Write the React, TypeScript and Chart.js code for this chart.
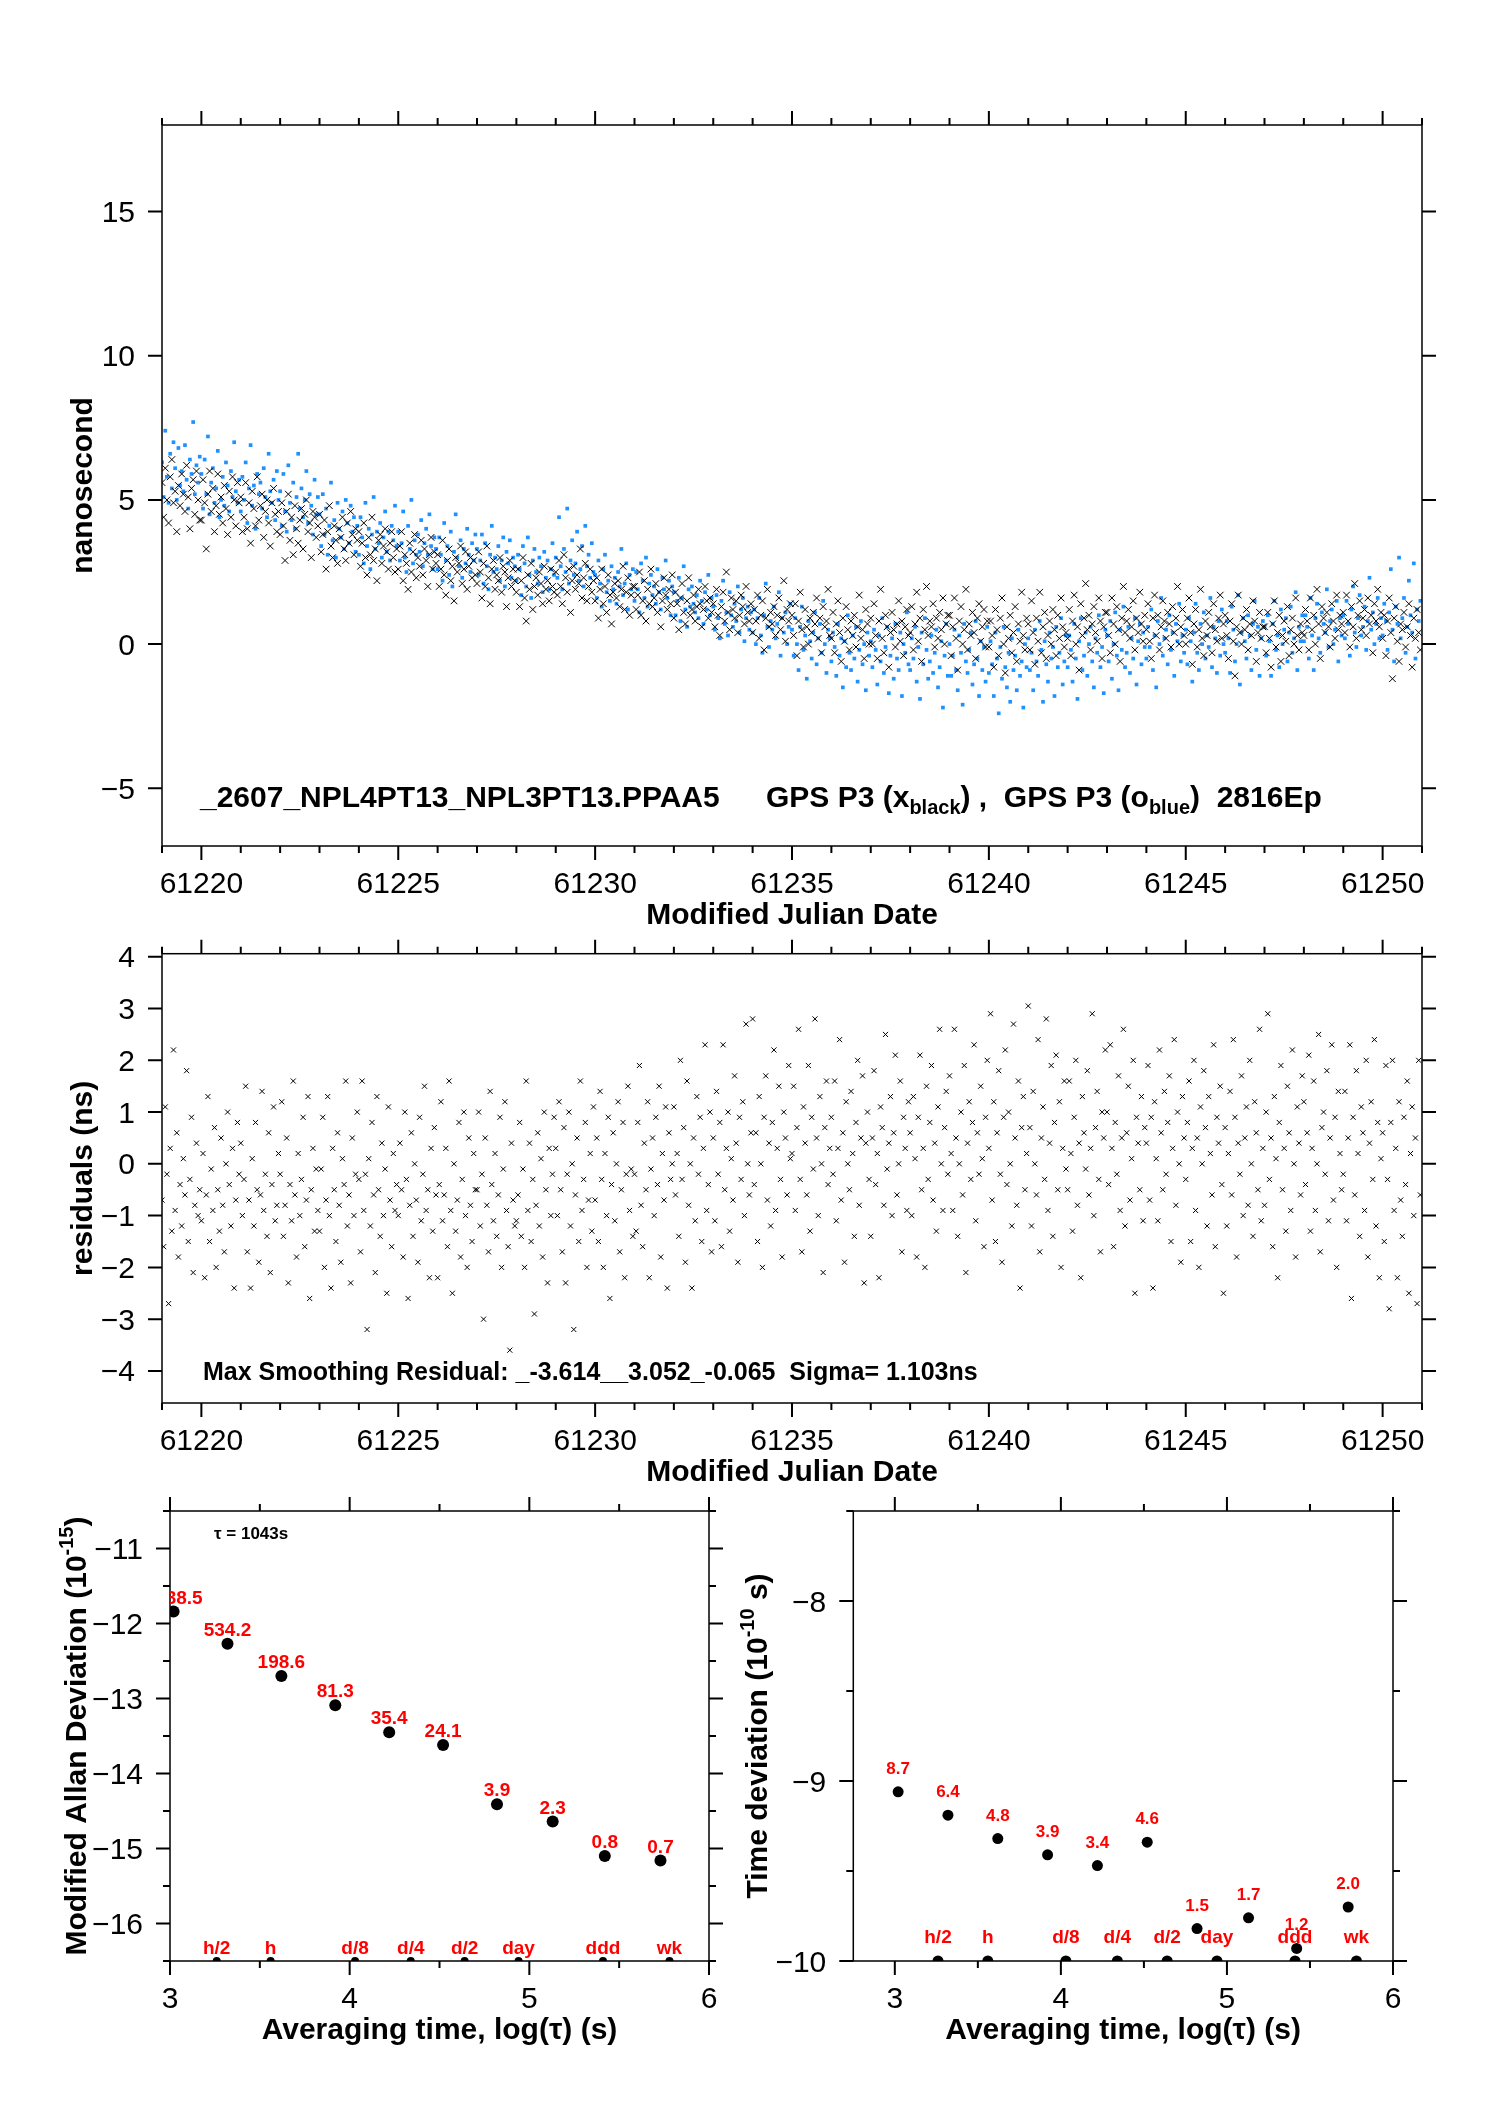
import { useEffect, useRef } from "react";
import { Chart, registerables } from "chart.js";

Chart.register(...registerables);

const FONT = '"Liberation Sans", Arial, Helvetica, sans-serif';
const MINUS = "\u2212";

// 24 epochs per day from MJD 61219
const FIRST_MJD = 61219;
const PER_DAY = 24;

// GPS P3 (x, black), nanoseconds, one row per day
const blackNs = [
  5.6, 4.4, 6.1, 5.0, 4.2, 5.8, 6.4, 4.9, 5.3, 3.9, 5.5, 4.8, 5.9, 5.2, 4.6, 6.2, 5.1, 4.0, 5.4, 5.7, 4.5, 6.0, 5.0, 4.3,
  4.3, 5.7, 4.9, 3.3, 5.2, 6.0, 4.6, 5.4, 3.9, 4.8, 5.9, 4.5, 5.1, 4.2, 5.5, 4.7, 3.8, 5.3, 4.4, 5.8, 5.0, 4.1, 5.6, 4.9,
  5.1, 3.9, 4.4, 5.6, 4.0, 4.9, 3.5, 5.3, 4.7, 4.1, 5.8, 4.3, 4.8, 5.2, 3.7, 4.6, 5.0, 4.2, 3.4, 4.9, 5.4, 4.5, 3.9, 4.6,
  3.8, 4.9, 4.1, 2.9, 4.6, 5.2, 3.6, 4.4, 3.1, 4.8, 4.0, 3.5, 4.3, 4.7, 3.3, 4.5, 5.0, 3.9, 4.2, 3.0, 4.6, 4.4, 3.7, 4.1,
  4.5, 3.2, 3.8, 4.3, 2.6, 3.9, 4.8, 3.4, 3.0, 4.1, 3.6, 2.8, 4.0, 3.7, 4.4, 3.3, 2.9, 4.2, 3.5, 4.6, 3.8, 3.1, 4.0, 3.6,
  3.9, 2.7, 3.5, 4.2, 3.0, 2.4, 3.7, 3.1, 4.4, 2.9, 3.3, 2.2, 3.6, 3.8, 2.8, 3.4, 4.0, 3.2, 2.6, 3.5, 3.9, 3.0, 2.5, 3.3,
  2.6, 3.4, 3.9, 2.2, 3.1, 2.8, 1.9, 3.5, 2.5, 3.2, 3.8, 2.3, 3.0, 2.7, 3.6, 2.4, 3.3, 2.9, 2.0, 3.1, 3.7, 2.6, 3.2, 2.8,
  3.1, 2.0, 2.6, 3.6, 2.4, 1.7, 2.9, 3.3, 2.2, 2.7, 1.5, 3.0, 2.5, 2.8, 3.4, 2.1, 2.6, 3.2, 1.9, 2.7, 3.0, 2.3, 2.9, 2.4,
  2.1, 3.2, 2.5, 1.6, 2.8, 2.0, 3.4, 2.3, 1.4, 2.6, 2.9, 1.9, 2.4, 2.2, 3.0, 1.8, 2.7, 2.5, 1.3, 2.3, 2.9, 2.0, 2.6, 2.2,
  1.8, 2.6, 1.3, 2.2, 3.0, 1.6, 0.8, 2.4, 1.9, 2.8, 1.2, 2.0, 2.3, 1.7, 2.5, 2.1, 1.4, 2.7, 1.9, 2.2, 1.5, 2.6, 2.0, 1.8,
  2.5, 1.7, 2.9, 2.0, 1.4, 3.1, 2.3, 1.8, 2.6, 1.1, 2.2, 2.7, 1.9, 2.4, 2.1, 3.3, 1.6, 2.3, 2.8, 1.5, 2.0, 2.6, 1.8, 2.2,
  1.5, 2.3, 0.9, 1.9, 2.6, 1.4, 2.0, 1.1, 2.4, 1.7, 0.7, 1.8, 2.1, 1.6, 2.2, 1.3, 1.9, 2.7, 1.2, 1.8, 2.3, 1.0, 1.7, 2.0,
  2.0, 1.2, 1.7, 2.5, 1.0, 1.5, 2.2, 0.8, 1.9, 1.4, 2.6, 1.3, 1.6, 2.1, 1.1, 1.8, 0.6, 1.5, 2.3, 1.7, 1.2, 1.9, 1.4, 2.4,
  0.9, 1.8, 1.4, 0.5, 1.6, 2.1, 1.1, 0.7, 1.5, 2.3, 1.0, 1.2, 1.7, 0.8, 1.3, 1.9, 1.4, 0.6, 1.2, 2.0, 1.5, 0.9, 1.6, 1.1,
  1.4, 0.6, 1.9, 1.0, 0.3, 1.3, 1.8, 0.8, 2.5, 1.1, 0.5, 1.6, 1.2, 0.9, 1.5, 0.4, 1.0, 1.7, 1.3, 0.7, 2.0, 1.1, 0.8, 1.4,
  0.4, 1.2, 0.8, 1.7, 0.2, 1.0, 1.5, -0.2, 0.9, 1.9, 0.6, 1.1, 0.7, 1.3, 0.3, 1.0, 1.6, 0.5, 0.9, 2.2, 0.1, 1.2, 0.8, 1.4,
  1.0, 0.3, 1.4, -0.4, 0.8, 1.8, 0.5, -0.1, 1.2, 0.6, 0.0, 0.9, 0.4, 1.1, 0.7, 1.6, 0.2, 0.9, -0.3, 1.3, 0.6, 0.8, 1.9, 0.3,
  0.2, 1.1, -0.3, 0.7, 1.5, 0.4, -0.6, 0.9, 0.1, 1.3, 0.5, -0.2, 0.8, 0.3, 1.0, -0.1, 0.6, 1.7, 0.2, 0.5, -0.5, 1.2, 0.7, 0.0,
  0.9, 0.0, 1.4, 0.3, -0.5, 0.8, 1.9, 0.2, -0.3, 1.0, 0.6, -0.8, 0.4, 1.1, 0.5, -0.1, 0.7, 1.5, 0.1, 0.8, -0.4, 0.6, 1.2, 0.3,
  0.4, 1.3, -0.2, 0.7, 1.8, 0.1, 0.9, -0.6, 1.2, 0.5, 2.0, 0.3, 0.8, 0.6, 1.4, -0.1, 0.9, 0.2, 1.1, 0.5, 1.6, 0.0, 0.7, 1.0,
  1.0, -0.4, 0.6, 1.6, 0.2, -0.9, 0.8, 1.3, 0.0, 0.5, 1.9, -0.2, 0.7, 0.3, 1.1, 0.4, -0.5, 0.9, 1.4, 0.1, 0.6, 1.2, -0.1, 0.8,
  -0.1, 0.8, 0.3, -0.8, 1.2, 0.5, -0.4, 0.9, 1.6, 0.0, -1.0, 0.6, 0.2, 1.0, -0.3, 0.4, 1.3, -0.6, 0.7, 0.1, 1.8, 0.3, -0.2, 0.9,
  0.7, -0.2, 1.5, 0.4, -0.7, 0.9, 0.1, 1.8, -0.3, 0.6, 1.1, -0.5, 0.3, 0.8, 0.0, 1.2, 0.5, -0.4, 1.0, 0.2, 1.6, 0.6, -0.1, 0.4,
  0.2, 1.2, -0.4, 0.8, 1.7, 0.0, 0.6, -0.9, 1.4, 0.3, 0.9, 2.1, 0.5, 1.0, -0.2, 0.7, 1.3, 0.4, 0.1, 1.6, 0.8, -0.5, 0.6, 1.1,
  1.1, 0.3, -0.3, 1.6, 0.7, 0.0, 1.3, 0.5, -0.6, 0.9, 2.0, 0.4, 0.8, 1.2, 0.2, 0.6, 1.5, -0.2, 0.9, 0.4, 1.8, 0.7, 0.1, 1.0,
  0.5, 1.4, 0.1, -0.5, 0.9, 1.7, 0.3, 1.0, -0.2, 0.6, 1.5, 0.8, 0.2, 1.1, 0.7, -0.1, 1.3, 0.4, 0.9, 2.0, 0.0, 0.6, 1.2, 0.3,
  0.0, 0.9, 1.6, 0.4, -0.7, 0.7, 1.2, -0.1, 0.5, 1.9, 0.2, -0.4, 0.8, 0.3, 1.1, 0.6, -0.3, 1.4, 0.5, 0.1, 0.9, 1.7, 0.2, 0.7,
  1.0, 0.3, -0.5, 0.8, 1.4, 0.1, -1.1, 0.6, 1.7, 0.4, 0.0, 0.9, 0.5, 1.2, -0.2, 0.7, 0.3, 1.5, 0.8, -0.6, 0.4, 1.1, 0.2, 0.6,
  0.6, -0.3, 1.1, 0.2, -0.8, 0.7, 1.5, -0.1, 0.4, 1.0, -0.6, 0.3, 0.8, 0.1, 1.3, -0.4, 0.5, 0.9, 0.0, 1.6, 0.3, -0.2, 0.7, 0.4,
  0.3, 1.2, 0.8, -0.2, 1.6, 0.5, 1.0, 0.0, 1.9, 0.7, -0.5, 1.3, 0.9, 0.4, 1.1, 0.6, -0.1, 1.4, 0.8, 0.2, 1.7, 0.5, 1.0, 0.7,
  1.1, 0.4, 1.7, 0.8, -0.1, 1.3, 0.6, 2.1, 0.2, 1.0, 1.5, 0.5, 0.9, 1.2, 0.3, 1.6, 0.7, 1.0, -0.3, 1.4, 0.8, 1.9, 0.6, 1.1,
  0.2, 1.0, -0.4, 0.8, 1.6, 0.4, -1.2, 0.9, 1.3, 0.1, -0.6, 0.7, 0.5, 1.1, -0.1, 0.6, 1.4, 0.3, -0.8, 0.9, 0.2, 1.2, 0.4, -0.2,
];

// GPS P3 (o, blue), nanoseconds, one row per day
const blueNs = [
  6.3, 5.1, 7.4, 5.8, 4.9, 6.6, 5.4, 7.0, 6.1, 5.0, 6.8, 5.5, 6.0, 5.3, 6.9, 5.7, 4.7, 6.4, 5.9, 7.7, 5.2, 6.2, 5.6, 6.5,
  5.9, 4.7, 6.4, 5.2, 7.2, 4.5, 5.6, 6.1, 4.9, 5.4, 6.7, 4.4, 5.0, 5.8, 4.8, 6.3, 5.5, 4.6, 6.0, 5.1, 7.0, 5.3, 4.9, 5.7,
  4.6, 5.8, 5.0, 6.3, 4.2, 5.4, 6.9, 4.8, 5.5, 4.0, 5.9, 5.2, 5.6, 4.7, 6.1, 5.1, 4.4, 6.6, 5.3, 4.9, 5.7, 4.3, 6.0, 5.0,
  5.3, 4.1, 5.9, 4.6, 3.9, 6.2, 4.9, 4.3, 5.6, 4.0, 5.1, 6.6, 4.7, 5.4, 4.4, 5.0, 6.0, 4.2, 5.2, 4.8, 3.8, 5.7, 4.5, 5.1,
  4.5, 3.4, 5.2, 3.8, 4.7, 3.1, 4.1, 5.6, 3.6, 4.3, 3.0, 4.9, 4.0, 3.7, 4.6, 3.3, 5.0, 4.2, 3.5, 4.8, 3.9, 4.4, 3.2, 4.1,
  3.1, 4.4, 3.7, 2.8, 4.9, 3.4, 4.0, 2.6, 3.8, 5.1, 3.3, 3.9, 3.5, 4.2, 3.0, 3.7, 4.6, 3.2, 3.9, 2.9, 4.1, 3.6, 4.8, 3.4,
  3.9, 2.9, 3.5, 4.6, 3.0, 2.5, 4.1, 3.3, 5.0, 2.8, 3.6, 3.1, 3.8, 3.2, 4.3, 2.7, 3.5, 4.0, 3.1, 4.5, 3.4, 2.6, 3.7, 3.3,
  2.6, 3.7, 3.1, 2.2, 4.2, 2.9, 3.4, 2.4, 3.9, 2.0, 3.2, 4.5, 3.0, 2.7, 3.6, 2.3, 3.3, 2.8, 4.0, 3.1, 2.5, 3.5, 2.9, 3.8,
  3.3, 2.4, 2.9, 3.8, 2.1, 3.5, 2.7, 1.9, 3.1, 4.1, 2.5, 3.0, 2.6, 3.4, 2.2, 2.9, 3.7, 2.0, 3.2, 2.8, 3.6, 2.3, 3.0, 2.7,
  2.2, 3.1, 2.6, 1.7, 3.4, 2.8, 2.0, 3.7, 2.4, 1.6, 2.9, 3.3, 2.5, 2.1, 3.0, 2.7, 1.8, 3.2, 2.3, 2.9, 1.9, 2.6, 3.5, 2.4,
  3.0, 2.3, 4.4, 2.7, 1.9, 3.3, 2.5, 4.7, 2.1, 2.9, 3.6, 2.4, 2.8, 3.9, 2.2, 2.6, 3.4, 2.0, 4.1, 2.7, 3.1, 2.3, 3.5, 2.5,
  2.4, 1.6, 2.9, 2.1, 1.3, 2.6, 3.1, 1.8, 2.2, 1.5, 2.7, 1.9, 2.3, 1.4, 2.5, 2.0, 3.3, 1.7, 2.1, 2.8, 1.2, 2.4, 1.9, 2.6,
  1.5, 2.5, 1.9, 1.1, 2.8, 2.2, 1.6, 3.0, 1.3, 2.1, 2.4, 1.7, 2.0, 1.4, 2.6, 1.8, 1.2, 2.3, 1.9, 2.9, 1.6, 2.2, 1.0, 2.0,
  1.8, 1.0, 1.5, 2.3, 0.8, 1.6, 2.7, 1.2, 0.6, 1.9, 1.3, 2.0, 1.4, 1.1, 1.7, 0.9, 2.2, 1.5, 0.7, 1.8, 1.2, 2.4, 1.0, 1.6,
  1.3, 0.5, 1.7, 0.9, 0.2, 1.5, 2.2, 0.7, 1.1, 0.3, 1.8, 1.0, 0.6, 1.4, 0.8, 2.0, 0.4, 1.2, 1.6, 0.1, 0.9, 1.3, 0.5, 1.1,
  0.4, 1.2, 0.0, 0.9, 1.6, 0.3, -0.3, 1.0, 2.1, 0.6, -0.1, 0.8, 0.5, 1.3, 0.2, 0.7, 1.8, -0.4, 0.9, 0.4, 1.1, 0.0, 0.6, 1.4,
  0.5, -0.4, 0.9, 0.0, -0.9, 0.6, 1.3, -0.2, 0.3, -1.2, 0.8, 0.1, -0.5, 0.4, 1.1, -0.7, 0.2, 0.7, -0.3, 1.5, 0.0, -1.0, 0.5, 0.2,
  -0.6, 0.4, -0.1, -1.1, 0.7, -0.4, 0.2, -1.5, 0.1, -0.8, 1.0, -0.3, -0.9, 0.3, -0.5, 0.6, -1.3, -0.2, 0.8, -0.7, 0.0, -1.6, 0.4, -0.4,
  0.1, -0.8, 0.5, -0.2, -1.4, 0.3, -0.6, 0.9, -1.0, -0.1, 0.6, -1.7, -0.4, 0.2, -1.2, 0.7, -0.5, -0.9, 0.4, -1.8, 0.0, -0.3, 1.1, -0.7,
  -0.9, 0.2, -0.5, 0.6, -1.3, -0.1, -1.9, 0.4, -0.7, 0.9, -0.2, -1.2, -0.6, 0.3, -1.0, -0.3, 0.5, -1.5, -0.8, 0.1, -2.2, -0.4, 0.7, -1.1,
  0.0, -1.1, -0.4, 0.5, -0.9, -1.6, 0.3, -0.3, -2.1, 0.7, -0.6, -1.0, -0.2, 0.4, -1.4, -0.7, 0.8, -0.5, -1.8, 0.1, -0.9, -0.1, -1.3, 0.6,
  -1.0, 0.1, -0.7, -1.8, 0.4, -0.5, -2.4, -0.1, -1.2, 0.6, -0.8, -1.5, -0.3, -2.0, 0.2, -0.9, -0.4, -1.6, 0.5, -1.1, -0.6, -2.2, 0.0, -0.8,
  0.2, -0.9, -0.3, -1.6, 0.5, -0.6, -1.1, 0.8, -0.2, -2.0, 0.1, -0.7, -1.3, 0.4, -0.5, -0.1, -1.8, 0.6, -0.8, -0.3, 0.9, -1.4, -0.6, 0.3,
  -0.8, 0.3, -0.2, -1.3, 0.7, -0.5, -1.9, 0.1, 0.9, -0.9, -0.4, 0.4, -1.1, 0.0, 0.6, -0.6, -1.5, 0.2, -0.3, 1.0, -0.8, -0.1, -1.7, 0.5,
  0.3, -0.6, 0.8, -1.2, 0.0, 1.1, -0.4, -1.6, 0.5, -0.2, 1.3, -0.8, -0.3, 0.6, -1.0, 0.2, -0.5, 0.9, -1.4, 0.1, 0.7, -0.7, 0.4, -0.1,
  -0.5, 0.6, -0.1, 1.2, -0.9, 0.3, -1.5, 0.8, 0.0, 1.6, -0.4, 0.2, 0.5, -0.7, 1.0, -0.2, 0.4, -1.1, 0.7, 0.1, 1.4, -0.6, 0.3, -0.3,
  0.5, -0.7, 0.9, 0.1, -1.3, 0.4, 1.4, -0.3, -0.9, 0.7, 0.0, 1.1, -0.5, 0.3, -0.1, 1.6, -0.8, 0.6, 0.2, -1.0, 0.8, -0.4, 1.2, 0.0,
  -0.3, 0.8, 0.2, -1.0, 1.3, 0.5, -0.6, 0.0, 1.7, -1.4, 0.4, 0.9, 0.1, -0.5, 1.0, 0.3, -0.9, 0.7, 1.5, -0.2, 0.6, -1.1, 0.2, 0.8,
  0.6, -0.4, 1.0, 0.1, -1.1, 0.7, 1.5, -0.2, 0.3, -0.8, 1.2, 0.0, 0.5, 0.9, -0.6, 0.4, 1.3, -0.3, 0.2, 1.8, -0.9, 0.6, 0.1, 1.0,
  0.1, 1.0, 0.6, -0.5, 1.6, 0.3, -0.9, 0.9, 1.4, 0.2, -0.3, 1.1, 0.7, 0.4, 1.9, -0.1, 0.8, 1.2, 0.0, 0.5, 1.5, -0.6, 0.9, 0.3,
  1.0, 0.2, 1.5, 0.7, -0.4, 1.2, 2.0, 0.4, -0.1, 0.9, 1.7, 0.3, 0.6, 1.3, -0.2, 0.8, 2.3, 0.5, 1.1, 0.0, 0.7, 1.6, 0.2, 0.9,
  0.3, 1.4, 0.8, -0.2, 1.1, 2.6, 0.5, -0.6, 1.3, 0.7, 3.0, 0.2, 0.9, 1.6, -0.3, 0.6, 2.2, 1.0, 0.4, 2.8, -0.5, 1.2, 0.8, 1.5,
];

// smoothing residuals, nanoseconds, one row per day
const residNs = [
  -0.7, -1.6, 1.1, -0.2, -2.7, 0.3, -1.3, 2.2, -0.9, 0.6, -1.8, -0.4, -1.2, 0.1, -0.6, 1.8, -1.5, -0.3, 0.9, -2.1, -0.8, 0.4, -1.0, -0.5,
  -1.1, 0.2, -2.2, -0.6, 1.3, -1.5, -0.1, -0.9, 0.7, -2.0, -0.5, -1.3, 0.5, -0.8, -1.7, 0.0, 1.0, -0.4, -1.2, 0.3, -2.4, -0.7, 0.8, -0.2,
  0.4, -1.0, -0.3, 1.5, -1.7, -0.7, -2.4, 0.1, -1.2, 0.8, -0.5, -1.9, -0.6, 1.4, -0.9, -0.2, -1.4, 0.6, -2.1, -0.4, 1.1, -1.1, -0.8, 0.2,
  -0.2, 1.2, -1.4, -0.8, 0.5, -2.3, -0.4, -1.1, 1.6, -0.6, -1.8, 0.2, -1.0, -0.3, 0.9, -1.6, -0.7, 1.3, -2.6, -0.5, 0.3, -1.3, -0.1, -0.9,
  -1.3, -0.1, 0.9, -2.0, -0.7, 1.3, -1.0, -2.4, 0.3, -0.5, -1.5, 0.6, -0.8, -1.9, 0.1, -0.4, 1.6, -1.2, -0.6, -2.3, 0.5, -1.0, -0.2, 1.0,
  -0.3, -1.7, 1.6, -0.9, -0.2, -3.2, 0.1, -1.2, 0.8, -0.6, -2.1, 1.3, -0.5, -1.4, 0.4, -1.0, -0.1, -2.5, 1.1, -0.7, -1.6, 0.2, -0.9, -0.4,
  -1.0, 0.4, -0.5, -1.8, 1.0, -0.3, -2.6, -0.8, 0.6, -1.4, 0.0, -0.7, -1.9, 0.9, -1.1, -0.2, 1.5, -0.9, -0.5, -2.2, 0.3, -1.3, 0.7, -0.6,
  -2.2, -0.4, 1.2, -1.1, -0.6, 0.3, -1.6, 1.6, -0.9, -2.5, 0.0, -1.3, -0.7, 0.8, -1.8, -0.3, 1.0, -1.0, -2.0, 0.5, -0.8, -1.5, 0.2, -0.5,
  -0.5, 1.0, -1.2, -0.2, -3.0, 0.5, -0.8, -1.7, 1.4, -0.4, -1.1, 0.2, -1.4, -0.6, 0.9, -2.0, -0.1, 1.2, -0.9, -1.6, -3.6, 0.4, -0.7, -1.2,
  -1.1, -0.6, 0.8, -1.4, -0.1, -2.0, 1.6, -0.9, 0.4, -1.5, -0.3, -2.9, -0.8, 0.6, -1.2, 0.1, -1.8, 1.0, -0.5, -2.3, 0.3, -1.0, -0.2, 0.9,
  0.3, -1.0, 1.2, -0.5, -1.7, 0.7, -2.3, -0.2, 1.0, -1.2, 0.0, -3.2, -0.6, 0.5, -1.5, 1.6, -0.9, -0.3, 0.8, -2.0, -0.7, 0.2, -1.3, 1.1,
  -0.7, 0.5, -1.5, 1.4, -0.3, -2.0, 0.2, -1.0, 0.9, -2.6, -0.4, 0.6, -1.1, 0.0, 1.2, -1.7, -0.5, 0.8, -2.2, -0.2, 1.5, -0.9, -0.1, -1.4,
  -0.2, -1.3, 0.8, 1.9, -0.8, -1.6, 0.4, -0.5, 1.2, -2.2, -0.1, 0.5, -1.0, 0.9, -0.4, 1.5, -1.8, 0.2, -0.7, 1.1, -2.4, 0.6, -0.3, 0.0,
  1.1, -0.6, 0.2, -1.4, 2.0, -0.3, 0.7, -1.9, 1.6, -0.8, 0.0, -2.4, 0.5, -1.1, 1.3, -0.2, 0.9, -1.5, 0.3, 2.3, -0.9, -0.4, 1.0, -1.7,
  0.5, -1.1, 1.4, -0.2, 0.8, -1.6, 2.3, -0.5, 0.3, 1.0, -1.3, 0.1, -0.7, 1.7, 0.4, -1.9, 0.9, -0.3, 1.2, -1.0, 2.7, 0.0, -0.6, 0.6,
  2.8, -0.4, 0.6, -1.5, 1.3, 0.0, -2.0, 0.9, 1.7, -0.7, 0.4, -1.2, 0.8, 2.2, -0.9, 0.3, 1.5, -0.3, -1.8, 1.0, 0.5, -0.6, 1.9, 0.1,
  0.2, 1.5, -0.9, 0.7, 2.6, -0.3, -1.7, 1.1, 0.4, -0.6, 1.9, -1.3, 0.9, -0.1, 2.8, 0.5, -1.0, 1.3, 0.0, -2.1, 0.7, 1.6, -0.4, 0.3,
  0.9, -0.2, 1.6, -1.1, 0.3, 2.4, -0.7, 0.6, -1.9, 1.2, 0.0, -0.5, 1.4, 0.2, -1.4, 0.8, 2.0, -0.8, 0.5, 1.7, -2.3, 0.4, 1.0, -0.3,
  -1.4, 0.5, 1.8, -0.4, 0.2, -2.2, 1.1, 0.7, -0.8, 2.5, -0.1, 0.4, 1.3, -1.0, 0.6, 2.1, -0.6, 0.0, 1.6, -1.7, 0.9, 0.3, -0.9, 1.2,
  0.6, -1.0, 1.3, 0.1, -1.8, 0.9, 2.1, -0.5, 0.3, -2.0, 1.5, -0.3, 0.8, 1.9, -0.7, 0.4, -1.3, 1.1, 2.6, 0.0, -0.9, 0.7, 1.4, -0.2,
  1.7, 0.2, -0.9, 2.6, 0.5, -1.4, 0.0, 1.0, -0.6, 1.9, -2.1, 0.4, 1.2, -0.3, 0.8, 2.3, -1.1, 0.6, -0.2, 1.5, 0.1, -1.6, 0.9, 2.0,
  0.3, 2.9, -0.7, 1.2, -1.5, 0.6, 1.8, -0.2, -1.9, 0.9, 2.2, -0.4, 1.0, 0.0, -1.2, 2.7, 0.5, -0.8, 1.6, -2.4, 0.7, 1.3, -0.5, 0.2,
  3.05, 0.7, -1.2, 1.4, 0.0, -0.6, 2.4, -1.7, 0.5, 1.1, -0.3, 2.8, -0.9, 0.4, 1.9, -1.4, 0.8, 2.1, -0.5, 1.2, -2.0, 0.3, 1.6, -0.1,
  -0.5, 1.6, 0.2, -1.3, 0.9, 2.0, -0.8, 0.4, -2.2, 1.3, 0.6, -0.1, 1.8, -0.6, 0.3, 2.9, -1.0, 0.7, 1.4, -0.3, -1.7, 1.0, 0.5, 2.2,
  1.0, -0.4, 2.3, 0.3, -1.6, 0.8, -0.2, 1.7, -0.9, 0.5, 2.6, -1.2, 0.6, 1.5, -0.7, 0.1, 2.0, -2.5, 0.9, 0.4, -0.5, 1.3, -1.1, 0.7,
  0.4, 1.9, -0.7, 0.9, -2.4, 1.2, 0.1, -1.1, 2.2, 0.6, -0.5, 1.4, -0.2, 0.8, 1.7, -1.5, 0.3, 2.4, -0.8, 1.0, 0.0, -1.9, 1.3, 0.5,
  -0.3, 0.8, 1.6, -1.5, 0.3, 2.0, -0.9, 0.5, -2.0, 1.1, 0.0, 1.8, 0.7, -1.2, 1.3, 0.2, -0.6, 2.3, -1.6, 0.9, 0.4, 1.5, -0.4, -2.5,
  0.7, -1.2, 0.2, 1.4, -0.6, 2.4, 0.9, -1.8, 0.4, -0.2, 1.7, -1.0, 0.5, 1.1, -0.8, 2.0, 0.0, -1.4, 1.2, 0.6, -0.5, 2.6, -1.1, 0.3,
  -0.8, 1.0, 2.9, -0.3, 0.5, -1.6, 1.3, 0.1, -2.2, 0.8, 1.9, -0.5, 0.3, -1.3, 1.5, 0.6, -0.9, 2.2, 0.0, -1.8, 1.1, 0.4, -0.6, 1.7,
  1.2, -0.4, 0.6, 2.1, -1.3, 0.3, 1.6, -0.9, 0.0, 2.5, -1.7, 0.7, 1.0, -0.2, 1.8, -1.1, 0.5, 2.3, -0.7, 0.9, -2.0, 1.4, 0.2, -0.5,
  -0.2, 1.4, -1.1, 0.5, 2.3, -2.6, 0.9, -0.6, 1.8, 0.2, -1.4, 1.1, 0.6, -0.9, 2.0, -1.8, 0.4, 1.2, -0.3, 2.4, -1.2, 0.8, -2.2, 0.1,
  0.6, -1.5, 1.9, -0.3, -2.8, 0.8, 2.0, -0.9, 0.3, -2.2, 1.2, -0.7, -1.4, 0.9, -0.4, 1.6, -2.5, 0.2, 1.1, -1.0, 0.5, -2.7, 2.0, -0.6,
];

// stability analysis, log10(tau) in seconds
const tauLog = [3.02, 3.32, 3.62, 3.92, 4.22, 4.52, 4.82, 5.13, 5.42, 5.73];
const adevLog = [-11.84, -12.27, -12.7, -13.09, -13.45, -13.62, -14.41, -14.64, -15.1, -15.16];
const adevText = ["1438.5", "534.2", "198.6", "81.3", "35.4", "24.1", "3.9", "2.3", "0.8", "0.7"];
const tdevLog = [-9.06, -9.19, -9.32, -9.41, -9.47, -9.34, -9.82, -9.76, -9.93, -9.7];
const tdevText = ["8.7", "6.4", "4.8", "3.9", "3.4", "4.6", "1.5", "1.7", "1.2", "2.0"];
const markerTau = [3.26, 3.56, 4.03, 4.34, 4.64, 4.94, 5.41, 5.78];
const markerName = ["h/2", "h", "d/8", "d/4", "d/2", "day", "ddd", "wk"];

// axes
const MJD_RANGE = [61219, 61251];
const NS_RANGE = [-7, 18];
const RES_RANGE = [-4.62, 4.06];
const ADEV_RANGE = [-16.5, -10.5];
const TDEV_RANGE = [-10, -7.5];
const mjdDays = Array.from({ length: 33 }, (_, i) => 61219 + i);
const mjdMajor = [61220, 61225, 61230, 61235, 61240, 61245, 61250];
const nsTicks = [-5, 0, 5, 10, 15];
const resTicks = [-4, -3, -2, -1, 0, 1, 2, 3, 4];
const tauMajor = [3, 4, 5, 6];
const tauMinor = [3.5, 4.5, 5.5];
const adevMajor = [-16, -15, -14, -13, -12, -11];
const adevMinor = [-16.5, -15.5, -14.5, -13.5, -12.5, -11.5, -10.5];
const tdevMajor = [-10, -9, -8];
const tdevMinor = [-9.5, -8.5, -7.5];

const num = (v: number) => (v < 0 ? MINUS + Math.abs(v) : String(v));

type Seg = { t: string; s?: "sup" | "sub" };

function drawRich(
  ctx: CanvasRenderingContext2D,
  segs: Seg[],
  x: number,
  y: number,
  size: number,
  align: "left" | "center"
) {
  const small = Math.round(size * 0.66);
  const font = (s?: string) => `bold ${s ? small : size}px ${FONT}`;
  let total = 0;
  for (const g of segs) {
    ctx.font = font(g.s);
    total += ctx.measureText(g.t).width;
  }
  let cx = align === "center" ? x - total / 2 : x;
  ctx.textAlign = "left";
  ctx.textBaseline = "alphabetic";
  for (const g of segs) {
    ctx.font = font(g.s);
    const dy = g.s === "sup" ? -size * 0.42 : g.s === "sub" ? size * 0.24 : 0;
    ctx.fillText(g.t, cx, y + dy);
    cx += ctx.measureText(g.t).width;
  }
}

type AxisSpec = { major: number[]; minor: number[]; fmt: (v: number) => string };
type FrameSpec = {
  x: AxisSpec;
  y: AxisSpec;
  xTitle: Seg[];
  yTitle: Seg[];
  yTitleX: number;
  notes?: (chart: Chart, ctx: CanvasRenderingContext2D) => void;
};

const MAJOR = 14;
const MINOR = 7;

// box frame with outward ticks on all four sides, labels and titles
function framePlugin(spec: FrameSpec) {
  return {
    id: "frame",
    afterDatasetsDraw(chart: Chart) {
      const { ctx, chartArea: a, scales } = chart;
      const sx = scales.x;
      const sy = scales.y;
      ctx.save();
      ctx.strokeStyle = "#000";
      ctx.lineWidth = 1.5;
      ctx.strokeRect(a.left, a.top, a.right - a.left, a.bottom - a.top);

      ctx.lineWidth = 2;
      ctx.beginPath();
      const xt = (vals: number[], len: number) => {
        for (const v of vals) {
          const p = sx.getPixelForValue(v);
          ctx.moveTo(p, a.bottom);
          ctx.lineTo(p, a.bottom + len);
          ctx.moveTo(p, a.top);
          ctx.lineTo(p, a.top - len);
        }
      };
      const yt = (vals: number[], len: number) => {
        for (const v of vals) {
          const p = sy.getPixelForValue(v);
          ctx.moveTo(a.left, p);
          ctx.lineTo(a.left - len, p);
          ctx.moveTo(a.right, p);
          ctx.lineTo(a.right + len, p);
        }
      };
      xt(spec.x.major, MAJOR);
      xt(spec.x.minor, MINOR);
      yt(spec.y.major, MAJOR);
      yt(spec.y.minor, MINOR);
      ctx.stroke();

      ctx.fillStyle = "#000";
      ctx.font = `30px ${FONT}`;
      ctx.textBaseline = "alphabetic";
      ctx.textAlign = "center";
      for (const v of spec.x.major) {
        ctx.fillText(spec.x.fmt(v), sx.getPixelForValue(v), a.bottom + 47);
      }
      ctx.textAlign = "right";
      for (const v of spec.y.major) {
        ctx.fillText(spec.y.fmt(v), a.left - 27, sy.getPixelForValue(v) + 10.5);
      }

      drawRich(ctx, spec.xTitle, (a.left + a.right) / 2, a.bottom + 78, 30, "center");
      ctx.save();
      ctx.translate(spec.yTitleX, (a.top + a.bottom) / 2);
      ctx.rotate(-Math.PI / 2);
      drawRich(ctx, spec.yTitle, 0, 0, 30, "center");
      ctx.restore();
      ctx.restore();

      if (spec.notes) {
        ctx.save();
        ctx.beginPath();
        ctx.rect(a.left, a.top, a.right - a.left, a.bottom - a.top);
        ctx.clip();
        spec.notes(chart, ctx);
        ctx.restore();
      }
    },
  };
}

function baseOptions(pad: object, xr: number[], yr: number[]) {
  return {
    responsive: false,
    animation: false as const,
    devicePixelRatio: 1,
    events: [],
    layout: { padding: pad },
    plugins: { legend: { display: false }, tooltip: { enabled: false } },
    scales: {
      x: { type: "linear" as const, display: false, min: xr[0], max: xr[1] },
      y: { type: "linear" as const, display: false, min: yr[0], max: yr[1] },
    },
  };
}

const toEpochs = (vals: number[]) =>
  vals.map((y, i) => ({ x: FIRST_MJD + i / PER_DAY, y }));

const crosses = (vals: number[], r: number) => ({
  data: toEpochs(vals),
  pointStyle: "crossRot",
  pointRadius: r,
  pointBorderColor: "#000",
  pointBorderWidth: 1,
  pointBackgroundColor: "#000",
  clip: 0,
});

const mjdAxis: AxisSpec = {
  major: mjdMajor,
  minor: mjdDays.filter((d) => !mjdMajor.includes(d)),
  fmt: String,
};

function makeTop(): any {
  return {
    type: "scatter",
    data: {
      datasets: [
        crosses(blackNs, 4.7),
        {
          data: toEpochs(blueNs),
          pointStyle: "rect",
          pointRadius: 2.6,
          pointBackgroundColor: "#1e90ff",
          pointBorderWidth: 0,
          clip: 0,
        },
      ],
    },
    options: baseOptions({ left: 162, top: 125, right: 66, bottom: 114 }, MJD_RANGE, NS_RANGE),
    plugins: [
      framePlugin({
        x: mjdAxis,
        y: { major: nsTicks, minor: [], fmt: num },
        xTitle: [{ t: "Modified Julian Date" }],
        yTitle: [{ t: "nanosecond" }],
        yTitleX: 92,
        notes: (chart, ctx) => {
          const a = chart.chartArea;
          ctx.fillStyle = "#000";
          drawRich(ctx, [{ t: "_2607_NPL4PT13_NPL3PT13.PPAA5" }], a.left + 38, a.bottom - 39, 30, "left");
          drawRich(
            ctx,
            [
              { t: "GPS P3 (x" },
              { t: "black", s: "sub" },
              { t: ") ,  GPS P3 (o" },
              { t: "blue", s: "sub" },
              { t: ")  2816Ep" },
            ],
            a.left + 604,
            a.bottom - 39,
            30,
            "left"
          );
        },
      }),
    ],
  };
}

function makeResid(): any {
  return {
    type: "scatter",
    data: { datasets: [crosses(residNs, 3.6)] },
    options: baseOptions({ left: 162, top: 53.7, right: 66, bottom: 117 }, MJD_RANGE, RES_RANGE),
    plugins: [
      framePlugin({
        x: mjdAxis,
        y: { major: resTicks, minor: [], fmt: num },
        xTitle: [{ t: "Modified Julian Date" }],
        yTitle: [{ t: "residuals (ns)" }],
        yTitleX: 92,
        notes: (chart, ctx) => {
          const a = chart.chartArea;
          ctx.fillStyle = "#000";
          drawRich(
            ctx,
            [{ t: "Max Smoothing Residual: _-3.614__3.052_-0.065  Sigma= 1.103ns" }],
            a.left + 41,
            a.bottom - 23,
            25,
            "left"
          );
        },
      }),
    ],
  };
}

const tauTitle: Seg[] = [{ t: "Averaging time, log(\u03c4) (s)" }];

function makeAdev(): any {
  return {
    type: "scatter",
    data: {
      datasets: [
        {
          data: tauLog.map((x, i) => ({ x, y: adevLog[i] })),
          pointRadius: 6,
          pointBackgroundColor: "#000",
          pointBorderWidth: 0,
          clip: 0,
        },
        {
          data: markerTau.map((x) => ({ x, y: ADEV_RANGE[0] })),
          pointRadius: 4,
          pointBackgroundColor: "#000",
          pointBorderWidth: 0,
          clip: 0,
        },
      ],
    },
    options: baseOptions({ left: 170, top: 51, right: 35, bottom: 144 }, [3, 6], ADEV_RANGE),
    plugins: [
      framePlugin({
        x: { major: tauMajor, minor: tauMinor, fmt: String },
        y: { major: adevMajor, minor: adevMinor, fmt: num },
        xTitle: tauTitle,
        yTitle: [{ t: "Modified Allan Deviation (10" }, { t: "-15", s: "sup" }, { t: ")" }],
        yTitleX: 86,
        notes: (chart, ctx) => {
          const a = chart.chartArea;
          const sx = chart.scales.x;
          const sy = chart.scales.y;
          ctx.fillStyle = "#000";
          ctx.font = `bold 17px ${FONT}`;
          ctx.textAlign = "left";
          ctx.fillText("\u03c4 = 1043s", a.left + 44, a.top + 28);
          ctx.fillStyle = "#ff0000";
          ctx.font = `bold 19px ${FONT}`;
          ctx.textAlign = "center";
          tauLog.forEach((t, i) =>
            ctx.fillText(adevText[i], sx.getPixelForValue(t), sy.getPixelForValue(adevLog[i]) - 8)
          );
          markerTau.forEach((t, i) => ctx.fillText(markerName[i], sx.getPixelForValue(t), a.bottom - 7));
        },
      }),
    ],
  };
}

function makeTdev(): any {
  return {
    type: "scatter",
    data: {
      datasets: [
        {
          data: tauLog.map((x, i) => ({ x, y: tdevLog[i] })),
          pointRadius: 5.5,
          pointBackgroundColor: "#000",
          pointBorderWidth: 0,
          clip: 0,
        },
        {
          data: markerTau.map((x) => ({ x, y: TDEV_RANGE[0] })),
          pointRadius: 5.5,
          pointBackgroundColor: "#000",
          pointBorderWidth: 0,
          clip: 0,
        },
      ],
    },
    options: baseOptions({ left: 153.3, top: 51, right: 95, bottom: 144 }, [2.75, 6], TDEV_RANGE),
    plugins: [
      framePlugin({
        x: { major: tauMajor, minor: tauMinor, fmt: String },
        y: { major: tdevMajor, minor: tdevMinor, fmt: num },
        xTitle: tauTitle,
        yTitle: [{ t: "Time deviation (10" }, { t: "-10", s: "sup" }, { t: " s)" }],
        yTitleX: 67,
        notes: (chart, ctx) => {
          const a = chart.chartArea;
          const sx = chart.scales.x;
          const sy = chart.scales.y;
          ctx.fillStyle = "#ff0000";
          ctx.textAlign = "center";
          ctx.font = `bold 17px ${FONT}`;
          tauLog.forEach((t, i) =>
            ctx.fillText(tdevText[i], sx.getPixelForValue(t), sy.getPixelForValue(tdevLog[i]) - 18)
          );
          ctx.font = `bold 19px ${FONT}`;
          markerTau.forEach((t, i) => ctx.fillText(markerName[i], sx.getPixelForValue(t), a.bottom - 18));
        },
      }),
    ],
  };
}

function Panel(props: {
  make: () => any;
  left: number;
  top: number;
  width: number;
  height: number;
  label: string;
}) {
  const { make, left, top, width, height, label } = props;
  const ref = useRef<HTMLCanvasElement>(null);

  useEffect(() => {
    const canvas = ref.current;
    if (!canvas) return;
    const chart = new Chart(canvas, make());
    return () => chart.destroy();
  }, [make]);

  return (
    <canvas
      ref={ref}
      width={width}
      height={height}
      role="img"
      aria-label={label}
      style={{ position: "absolute", left, top, width, height }}
    />
  );
}

export default function App() {
  return (
    <div
      style={{
        position: "absolute",
        left: 0,
        top: 0,
        width: 1488,
        height: 2105,
        background: "#fff",
        overflow: "hidden",
      }}
    >
      <Panel make={makeTop} left={0} top={0} width={1488} height={960} label="GPS P3 time differences, black and blue receivers" />
      <Panel make={makeResid} left={0} top={900} width={1488} height={620} label="Smoothing residuals in nanoseconds" />
      <Panel make={makeAdev} left={0} top={1460} width={744} height={645} label="Modified Allan deviation" />
      <Panel make={makeTdev} left={700} top={1460} width={788} height={645} label="Time deviation" />
    </div>
  );
}
